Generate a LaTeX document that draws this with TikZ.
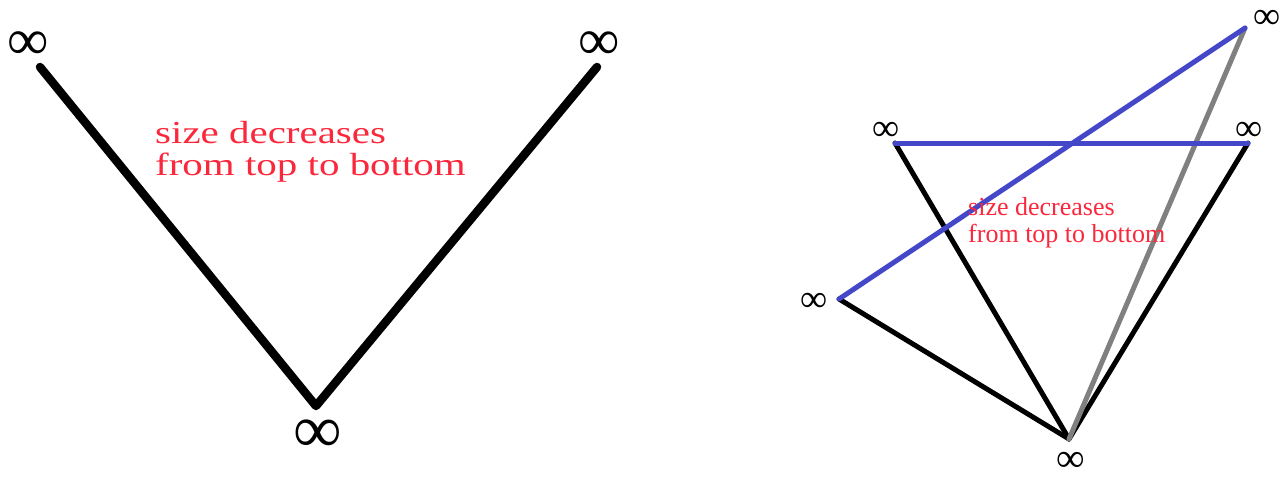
\documentclass[tikz,border=0pt]{standalone}
\usepackage{fontspec}
\setmainfont{Liberation Serif}
\newfontfamily\widefont[FakeStretch=1.28]{Liberation Serif}
\newfontfamily\midfont[FakeStretch=1.0]{Liberation Serif}
\begin{document}
\begin{tikzpicture}[x=1pt,y=-1pt,
  inf/.style={inner sep=0pt,font=\fontsize{#1}{#1}\selectfont},
  lab/.style={inner sep=0pt,anchor=north west,align=left,text=redtxt},
  thick1/.style={line width=8.5pt,line cap=round,line join=round},
  thin1/.style={line width=5pt,line cap=round},
]
\definecolor{redtxt}{RGB}{250,40,60}
\definecolor{blueln}{RGB}{68,72,200}
\definecolor{grayln}{RGB}{128,128,128}
\useasboundingbox (0,0) rectangle (1284,477);
% left
\coordinate (L1) at (40,67);
\coordinate (L2) at (597,67);
\coordinate (L3) at (316,406);
\draw[thick1] (L1) -- (L3) -- (L2);
\node[inf=58] (i1) at (28,46) {∞};
\node[inf=58] (i2) at (599,46) {∞};
\node[inf=68] (i3) at (318,436) {∞};
\node[lab,font=\widefont\fontsize{32}{32}\selectfont] (t1) at (155,121) {size decreases\\from top to bottom};
% right
\coordinate (A) at (839,299);
\coordinate (B) at (895,143);
\coordinate (C) at (1248,143);
\coordinate (D) at (1245,28);
\coordinate (E) at (1069,439);
\draw[thin1,black] (A) -- (E);
\draw[thin1,black] (B) -- (E);
\draw[thin1,black] (C) -- (E);
\draw[thin1,grayln] (D) -- (E);
\draw[thin1,blueln] (A) -- (D);
\draw[thin1,blueln] (B) -- (C);
\node[inf=38] (j1) at (814,302) {∞};
\node[inf=38] (j2) at (886,131) {∞};
\node[inf=38] (j3) at (1249,131) {∞};
\node[inf=38] (j4) at (1267,19) {∞};
\node[inf=40] (j5) at (1071,462) {∞};
\node[lab,font=\midfont\fontsize{26}{27}\selectfont] (t2) at (968,197) {size decreases\\from top to bottom};
\end{tikzpicture}
\end{document}
